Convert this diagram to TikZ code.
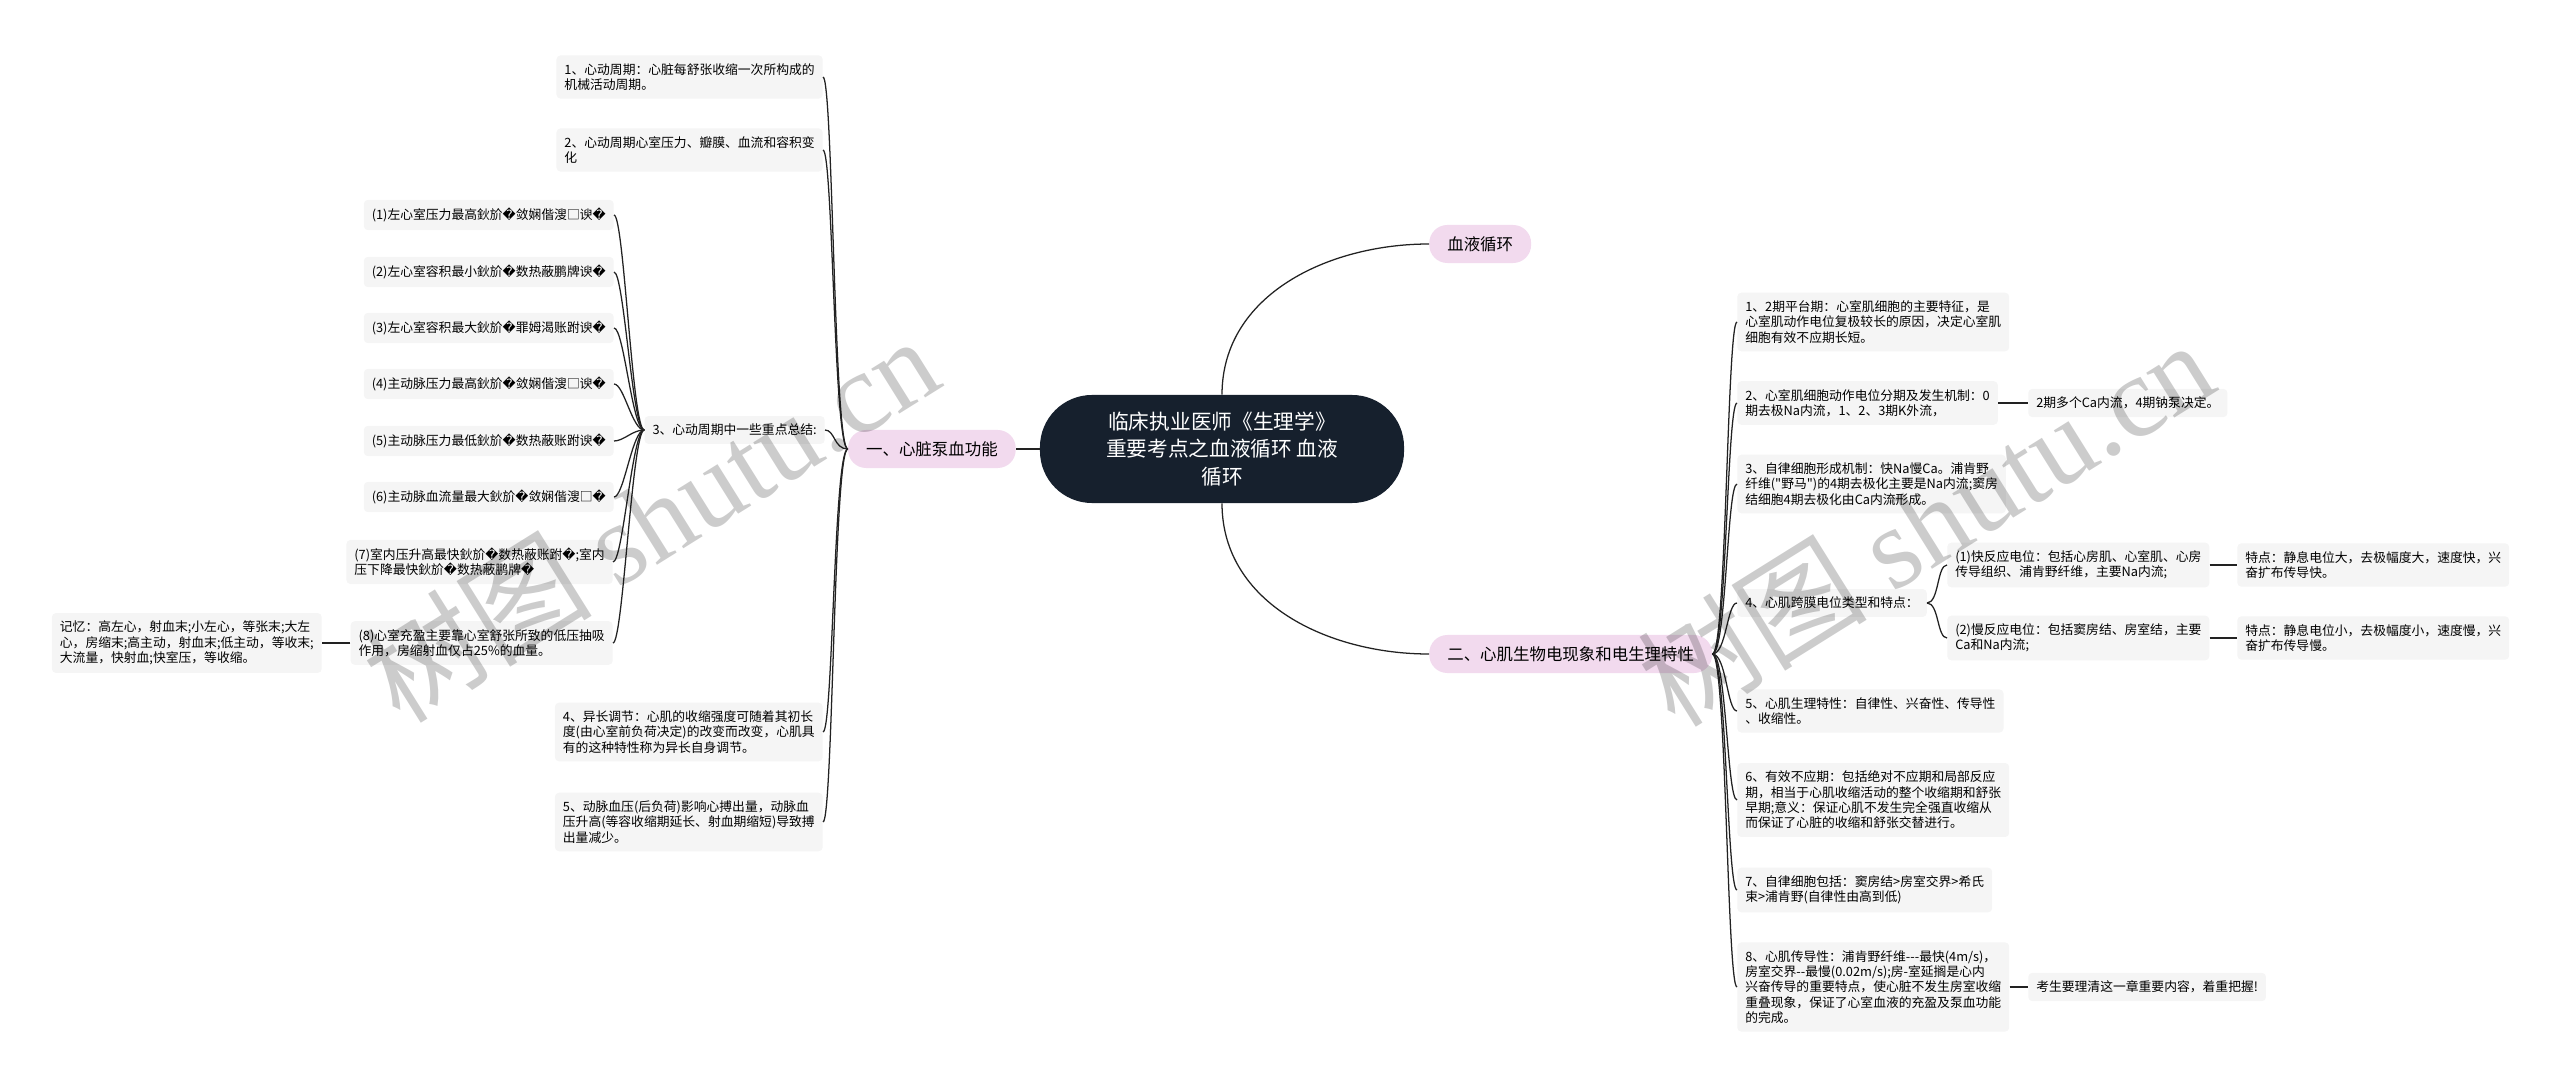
\documentclass[tikz,border=0pt]{standalone}
\usepackage{fontspec}
\usepackage{xcolor}
\newfontfamily\cjkmain{Noto Sans CJK SC}
\newfontfamily\repfont{DejaVu Sans}
\newfontfamily\markfont{Liberation Serif}
\definecolor{rootbg}{HTML}{16202D}
\definecolor{topicbg}{HTML}{F2DAEE}
\definecolor{leafbg}{HTML}{F5F5F5}
\definecolor{linkcol}{HTML}{222222}
\newcommand{\rp}{{\repfont\char"FFFD}}

\begin{document}
\begin{tikzpicture}[x=0.025cm,y=-0.025cm,
  root/.style={fill=rootbg,text=white,rounded corners=1.3cm,align=center,
    minimum width=9.1cm,minimum height=2.7cm,font=\cjkmain\fontsize{14.7}{19.6}\selectfont},
  topic/.style={fill=topicbg,rounded corners=0.45cm,minimum height=0.95cm,
    inner xsep=0.45cm,font=\cjkmain\fontsize{11.7}{14}\selectfont},
  leaf/.style={fill=leafbg,rounded corners=0.1cm,align=left,inner xsep=0.2cm,
    inner ysep=0.2cm,font=\cjkmain\fontsize{9.1}{10.9}\selectfont},
  link/.style={draw=linkcol,line width=0.9pt},
  wmark/.style={text=black,text opacity=0.2,font=\cjkmain\fontsize{82}{82}\selectfont}]
  \useasboundingbox (0,0) rectangle (2560,1089);

  \node[root] (root) at (1222,449) {临床执业医师《生理学》\\重要考点之血液循环 血液\\循环};
  \node[topic, anchor=east] (pump) at (1016,449) {一、心脏泵血功能};
  \node[topic, anchor=west] (blood) at (1429,244) {血液循环};
  \node[topic, anchor=west] (elec) at (1429,654) {二、心肌生物电现象和电生理特性};

  \node[leaf, anchor=east] (c1) at (823,77) {1、心动周期：心脏每舒张收缩一次所构成的\\机械活动周期。};
  \node[leaf, anchor=east] (c2) at (823,150) {2、心动周期心室压力、瓣膜、血流和容积变\\化};
  \node[leaf, anchor=east] (c3) at (825,430) {3、心动周期中一些重点总结:};
  \node[leaf, anchor=east] (c4) at (823,732) {4、异长调节：心肌的收缩强度可随着其初长\\度(由心室前负荷决定)的改变而改变，心肌具\\有的这种特性称为异长自身调节。};
  \node[leaf, anchor=east] (c5) at (823,822) {5、动脉血压(后负荷)影响心搏出量，动脉血\\压升高(等容收缩期延长、射血期缩短)导致搏\\出量减少。};

  \node[leaf, anchor=east] (s1) at (614,215) {(1)左心室压力最高鈥斺\rp{}敛娴偕溲□谀\rp};
  \node[leaf, anchor=east] (s2) at (614,272) {(2)左心室容积最小鈥斺\rp{}数热蔽鹏牌谀\rp};
  \node[leaf, anchor=east] (s3) at (614,328) {(3)左心室容积最大鈥斺\rp{}罪姆渴账跗谀\rp};
  \node[leaf, anchor=east] (s4) at (614,384) {(4)主动脉压力最高鈥斺\rp{}敛娴偕溲□谀\rp};
  \node[leaf, anchor=east] (s5) at (614,441) {(5)主动脉压力最低鈥斺\rp{}数热蔽账跗谀\rp};
  \node[leaf, anchor=east] (s6) at (614,497) {(6)主动脉血流量最大鈥斺\rp{}敛娴偕溲□\rp};
  \node[leaf, anchor=east] (s7) at (613,562) {(7)室内压升高最快鈥斺\rp{}数热蔽账跗\rp;室内\\压下降最快鈥斺\rp{}数热蔽鹏牌\rp};
  \node[leaf, anchor=east] (s8) at (613,643) {(8)心室充盈主要靠心室舒张所致的低压抽吸\\作用，房缩射血仅占25\%的血量。};
  \node[leaf, anchor=east] (memo) at (322,643) {记忆：高左心，射血末;小左心，等张末;大左\\心，房缩末;高主动，射血末;低主动，等收末;\\大流量，快射血;快室压，等收缩。};

  \node[leaf, anchor=west] (r1) at (1737,322) {1、2期平台期：心室肌细胞的主要特征，是\\心室肌动作电位复极较长的原因，决定心室肌\\细胞有效不应期长短。};
  \node[leaf, anchor=west] (r2) at (1737,403) {2、心室肌细胞动作电位分期及发生机制：0\\期去极Na内流，1、2、3期K外流，};
  \node[leaf, anchor=west] (r2a) at (2028,403) {2期多个Ca内流，4期钠泵决定。};
  \node[leaf, anchor=west] (r3) at (1737,484) {3、自律细胞形成机制：快Na慢Ca。浦肯野\\纤维("野马")的4期去极化主要是Na内流;窦房\\结细胞4期去极化由Ca内流形成。};
  \node[leaf, anchor=west] (r4) at (1737,603) {4、心肌跨膜电位类型和特点：};
  \node[leaf, anchor=west] (fast) at (1947,565) {(1)快反应电位：包括心房肌、心室肌、心房\\传导组织、浦肯野纤维，主要Na内流;};
  \node[leaf, anchor=west] (slow) at (1947,638) {(2)慢反应电位：包括窦房结、房室结，主要\\Ca和Na内流;};
  \node[leaf, anchor=west] (fastc) at (2237,565) {特点：静息电位大，去极幅度大，速度快，兴\\奋扩布传导快。};
  \node[leaf, anchor=west] (slowc) at (2237,638) {特点：静息电位小，去极幅度小，速度慢，兴\\奋扩布传导慢。};
  \node[leaf, anchor=west] (r5) at (1737,711) {5、心肌生理特性：自律性、兴奋性、传导性\\、收缩性。};
  \node[leaf, anchor=west] (r6) at (1737,800) {6、有效不应期：包括绝对不应期和局部反应\\期，相当于心肌收缩活动的整个收缩期和舒张\\早期;意义：保证心肌不发生完全强直收缩从\\而保证了心脏的收缩和舒张交替进行。};
  \node[leaf, anchor=west] (r7) at (1737,890) {7、自律细胞包括：窦房结>房室交界>希氏\\束>浦肯野(自律性由高到低)};
  \node[leaf, anchor=west] (r8) at (1737,987) {8、心肌传导性：浦肯野纤维---最快(4m/s)，\\房室交界--最慢(0.02m/s);房-室延搁是心内\\兴奋传导的重要特点，使心脏不发生房室收缩\\重叠现象，保证了心室血液的充盈及泵血功能\\的完成。};
  \node[leaf, anchor=west] (r8a) at (2028,987) {考生要理清这一章重要内容，着重把握!};

  \draw[link] (root.west) -- (pump.east);
  \draw[link] (root.north) to[out=90,in=180] (blood.west);
  \draw[link] (root.south) to[out=-90,in=180] (elec.west);

  \foreach \k in {c1,c2,c3,c4,c5}
    \draw[link] (pump.west) .. controls +(-14,0) and +(10,0) .. (\k.east);
  \foreach \k in {s1,s2,s3,s4,s5,s6,s7,s8}
    \draw[link] (c3.west) .. controls +(-12,0) and +(10,0) .. (\k.east);
  \draw[link] (s8.west) -- (memo.east);

  \foreach \k in {r1,r2,r3,r4,r5,r6,r7,r8}
    \draw[link] (elec.east) .. controls +(14,0) and +(-10,0) .. (\k.west);
  \draw[link] (r2.east) -- (r2a.west);
  \draw[link] (r4.east) .. controls +(12,0) and +(-10,0) .. (fast.west);
  \draw[link] (r4.east) .. controls +(12,0) and +(-10,0) .. (slow.west);
  \draw[link] (fast.east) -- (fastc.west);
  \draw[link] (slow.east) -- (slowc.west);
  \draw[link] (r8.east) -- (r8a.west);

  \node[wmark, rotate=32] (mark1) at (650,518) {树图 {\markfont shutu.cn}};
  \node[wmark, rotate=32] (mark2) at (1925,522) {树图 {\markfont shutu.cn}};
\end{tikzpicture}
\end{document}
